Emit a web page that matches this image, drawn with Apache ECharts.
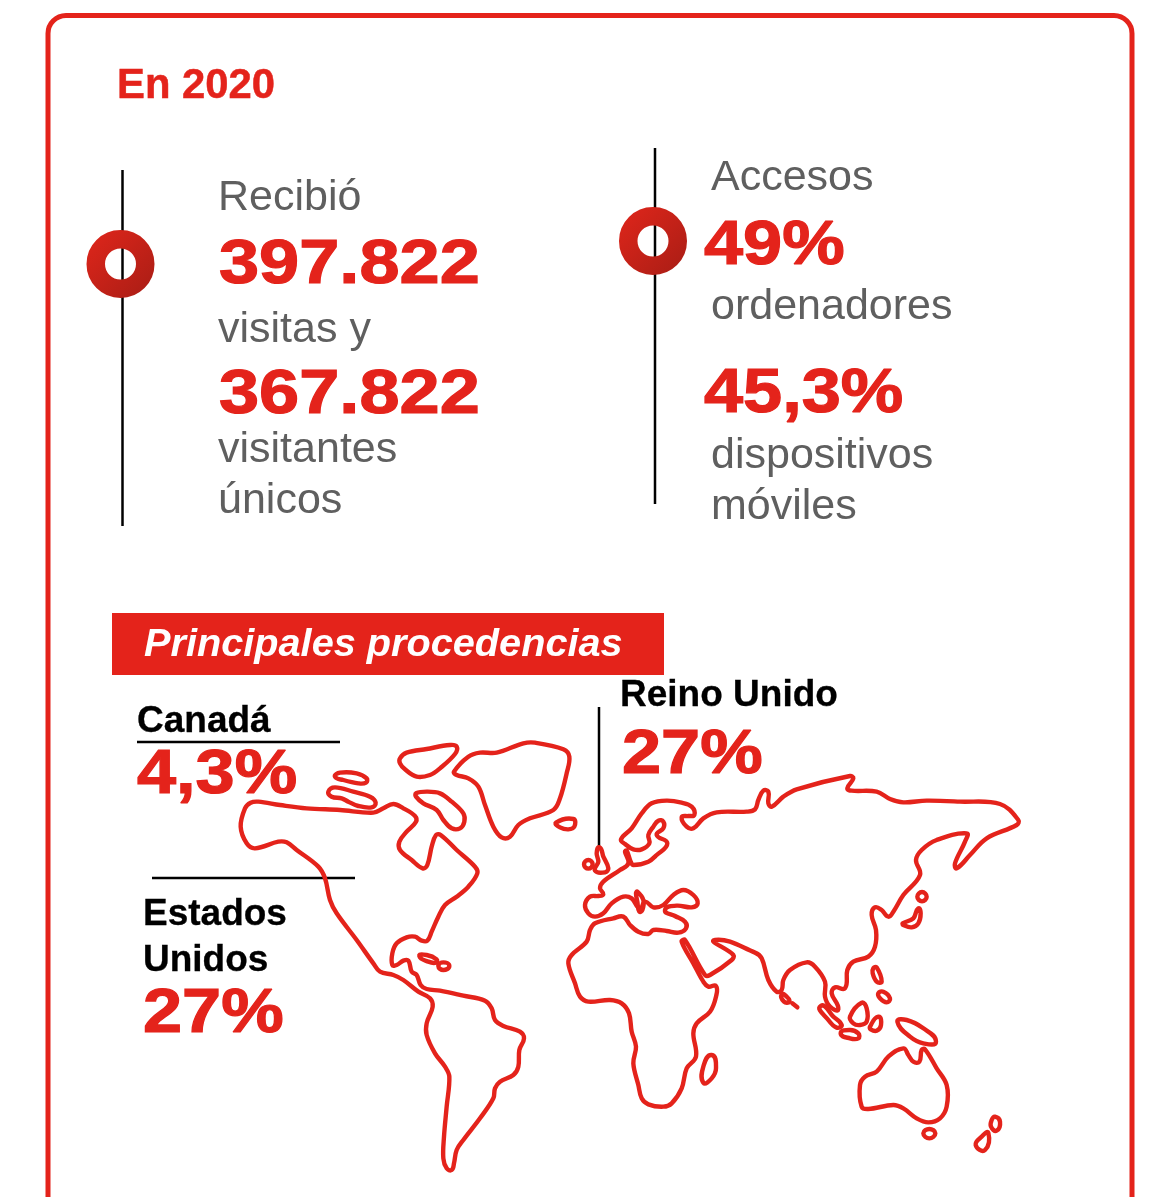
<!DOCTYPE html>
<html>
<head>
<meta charset="utf-8">
<style>html,body{margin:0;padding:0;background:#fff;overflow:hidden}#c{width:1158px;height:1197px}</style>
<script src="https://cdn.jsdelivr.net/npm/echarts@6/dist/echarts.min.js"></script>
</head>
<body>
<div id="c"></div>
<script>
// ---- texts and values
const heading = 'En 2020';
const bannerTitle = 'Principales procedencias';
const visitLabels = ['Recibió', 'visitas y', 'visitantes', 'únicos'];
const visitValues = ['397.822', '367.822'];
const accessLabels = ['Accesos', 'ordenadores', 'dispositivos', 'móviles'];
const accessValues = ['49%', '45,3%'];
const originCountries = ['Canadá', 'Estados', 'Unidos', 'Reino Unido'];
const originShares = ['4,3%', '27%', '27%'];

// ---- world outline, western half (crop units)
const americas = [[85,215],[150,225],[230,235],[330,240],[430,248],[460,235],[490,222],[520,235],[555,258],[558,275],[530,305],[508,335],[510,360],[545,390],[578,415],[592,405],[605,350],[618,315],[632,315],[680,360],[735,410],[742,430],[715,470],[680,500],[645,525],[625,560],[605,605],[592,632],[575,632],[555,620],[530,622],[500,640],[487,670],[487,705],[500,705],[520,692],[535,692],[545,725],[560,735],[572,765],[590,777],[630,782],[700,797],[765,812],[785,835],[795,870],[820,888],[870,905],[882,925],[868,960],[865,1010],[850,1035],[810,1055],[795,1075],[790,1105],[750,1165],[700,1230],[680,1260],[672,1300],[665,1320],[650,1315],[640,1285],[642,1220],[650,1130],[658,1040],[645,1010],[615,970],[590,915],[590,880],[608,830],[600,805],[565,785],[520,750],[490,735],[450,725],[430,700],[380,630],[320,550],[300,510],[285,445],[265,410],[200,360],[170,337],[145,335],[75,355],[50,340],[32,290],[45,235],[62,218],[85,215]];
const arcticNorth = [[510,85],[530,68],[590,57],[660,45],[680,50],[675,72],[630,115],[600,135],[560,140],[525,118],[510,100],[510,85]];
const greenland = [[672,125],[715,80],[750,68],[800,68],[880,40],[915,38],[1000,58],[1018,80],[1010,130],[990,205],[970,240],[900,265],[865,285],[840,320],[815,322],[790,290],[765,225],[745,170],[715,145],[680,135],[672,125]];
const baffin = [[558,190],[590,185],[630,190],[665,215],[700,250],[703,275],[690,295],[665,295],[640,270],[620,240],[580,220],[558,200],[558,190]];
const arcticSmall1 = [[315,140],[330,128],[380,130],[410,145],[408,158],[385,160],[340,150],[315,140]];
const arcticSmall2 = [[295,185],[315,172],[370,185],[420,200],[437,218],[425,232],[385,228],[355,215],[335,205],[305,200],[295,185]];
const iceland = [[978,278],[1030,267],[1033,290],[1015,298],[990,292],[978,278]];
const cuba = [[568,678],[590,675],[620,688],[618,698],[595,695],[568,678]];
const hispaniola = [[625,708],[640,697],[658,708],[640,720],[625,708]];

// ---- world outline, eastern half (crop units)
const afroEurasia = [[365,172],[385,168],[403,165],[395,140],[365,128],[320,122],[275,130],[245,160],[215,205],[183,238],[195,252],[220,268],[245,268],[268,250],[265,225],[280,200],[295,182],[310,185],[310,205],[290,225],[322,250],[290,285],[265,305],[220,315],[212,305],[200,272],[195,275],[205,310],[180,330],[130,365],[120,385],[130,403],[115,408],[90,410],[75,435],[85,460],[105,470],[130,460],[155,430],[190,410],[215,415],[240,445],[255,425],[280,442],[310,435],[340,405],[370,390],[400,405],[413,430],[395,442],[350,437],[315,450],[345,468],[375,485],[378,505],[355,518],[320,513],[280,510],[265,522],[235,515],[210,495],[190,470],[160,475],[105,490],[90,510],[80,545],[35,585],[25,610],[45,670],[60,710],[85,725],[150,720],[185,730],[207,760],[215,815],[228,860],[220,910],[235,975],[245,1015],[265,1033],[310,1040],[335,1030],[365,985],[380,925],[408,890],[400,820],[410,790],[450,755],[468,710],[468,678],[445,680],[430,665],[400,610],[365,545],[375,540],[435,645],[450,645],[515,600],[520,585],[465,540],[585,578],[605,595],[625,660],[650,695],[665,690],[670,660],[690,630],[740,607],[765,620],[795,665],[795,710],[810,740],[835,748],[815,700],[825,682],[855,685],[862,630],[880,605],[925,590],[945,560],[948,510],[935,465],[945,442],[965,450],[985,470],[1000,455],[1030,405],[1080,345],[1068,300],[1085,270],[1130,240],[1220,220],[1215,245],[1185,310],[1190,325],[1230,285],[1280,235],[1370,195],[1375,180],[1320,132],[1200,125],[1100,122],[1030,127],[990,117],[950,95],[875,92],[862,85],[880,55],[870,48],[710,88],[670,110],[635,140],[625,130],[625,95],[610,92],[595,120],[585,148],[560,155],[470,157],[430,175],[400,205],[380,200],[365,172]];
const britain = [[118,262],[130,290],[145,325],[135,337],[105,332],[115,305],[110,280],[118,262]];
const ireland = [[72,313],[85,300],[98,313],[85,326],[72,313]];
const italy = [[232,395],[250,420],[247,450],[238,455],[232,425],[228,400],[232,395]];
const japan = [[1028,490],[1060,475],[1075,445],[1082,460],[1075,490],[1055,502],[1030,495],[1028,490]];
const hokkaido = [[1072,410],[1086,396],[1100,410],[1086,424],[1072,410]];
const sriLanka = [[665,703],[680,710],[688,725],[672,725],[665,703]];
const maldives = [[697,730],[712,742]];
const sumatra = [[782,738],[820,770],[845,795],[830,803],[805,780],[782,738]];
const java = [[842,820],[870,810],[895,820],[895,835],[870,835],[842,820]];
const borneo = [[870,770],[905,728],[920,745],[920,785],[900,795],[880,790],[870,770]];
const sulawesi = [[930,800],[955,770],[963,795],[950,812],[932,808],[930,800]];
const luzon = [[940,625],[950,622],[965,665],[950,665],[938,640],[940,625]];
const mindanao = [[955,700],[970,695],[990,715],[980,727],[960,715],[955,700]];
const newGuinea = [[1012,785],[1040,780],[1090,805],[1128,845],[1090,850],[1050,830],[1012,785]];
const australia = [[1030,865],[1045,885],[1060,905],[1078,905],[1085,870],[1095,868],[1130,925],[1160,975],[1160,1040],[1140,1075],[1105,1087],[1070,1075],[1030,1045],[1000,1035],[925,1047],[905,1040],[900,975],[915,950],[950,935],[985,890],[1030,865]];
const tasmania = [[1090,1120],[1108,1107],[1126,1120],[1108,1135],[1090,1120]];
const nzNorth = [[1305,1070],[1320,1085],[1310,1112],[1293,1100],[1295,1080],[1305,1070]];
const nzSouth = [[1285,1118],[1275,1170],[1247,1155],[1265,1130],[1285,1118]];
const madagascar = [[455,885],[468,925],[455,955],[430,968],[430,920],[455,885]];

// ---- layout
const RED = '#e4231b', GREY = '#5f5f5f', BLACK = '#000', W = 1158, H = 1197;
const west = p => [230 + p[0] / 3, 730 + p[1] / 3];
const east = p => [560 + p[0] / 3, 760 + p[1] / 3];
const landmasses = [
  [americas, west], [arcticNorth, west], [greenland, west], [baffin, west], [arcticSmall1, west], [arcticSmall2, west], [iceland, west], [cuba, west], [hispaniola, west],
  [afroEurasia, east], [britain, east], [ireland, east], [italy, east], [japan, east], [hokkaido, east], [sriLanka, east], [maldives, east], [sumatra, east], [java, east], [borneo, east], [sulawesi, east], [luzon, east], [mindanao, east], [newGuinea, east], [australia, east], [tasmania, east], [nzNorth, east], [nzSouth, east], [madagascar, east]
];

const label = (text, x, y, size, fill, extra) => ({
  type: 'text', x, y, z: 10, silent: true, scaleX: (extra && extra.sx) || 1,
  style: { text, fontSize: size, fontWeight: (extra && extra.w) || 'normal', fontStyle: (extra && extra.i) || 'normal',
    fontFamily: '"Liberation Sans", Arial, sans-serif', fill, verticalAlign: 'middle',
    stroke: (extra && extra.st) ? fill : null, lineWidth: (extra && extra.st) || 0 }
});
const big = (text, x, y, sx) => label(text, x, y, 63, RED, { w: 'bold', sx: sx || 1.145, st: 1.2 });
const pct = (text, x, y) => big(text, x, y, 1.115);
const dark = (text, x, y) => label(text, x, y, 37, BLACK, { w: 'bold', st: 0.3 });
const grey = (text, x, y) => label(text, x, y, 43, GREY);
const rule = (x1, y1, x2, y2, w) => ({ type: 'line', z: 1, silent: true, shape: { x1, y1, x2, y2 }, style: { stroke: BLACK, lineWidth: w } });
const ring = (cx, cy) => ({
  type: 'circle', z: 5, silent: true, shape: { cx, cy, r: 24.75 },
  style: { fill: 'none', lineWidth: 18.5, stroke: { type: 'linear', x: 0, y: 0, x2: 1, y2: 1, colorStops: [{ offset: 0, color: '#e0261b' }, { offset: 1, color: '#a81d15' }] } }
});

const graphics = [
  { type: 'rect', z: 0, silent: true, shape: { x: 48, y: 15.5, width: 1084, height: 1300, r: 18 }, style: { fill: '#fff', stroke: RED, lineWidth: 5 } },
  rule(122.5, 170, 122.5, 526, 2.5), rule(655, 148, 655, 504, 2.5),
  ring(120.5, 264), ring(653, 241),
  label(heading, 117, 86, 41.8, RED, { w: 'bold', st: 0.5 }),
  grey(visitLabels[0], 218, 198.5), big(visitValues[0], 219, 266), grey(visitLabels[1], 218, 330.5),
  big(visitValues[1], 219, 396), grey(visitLabels[2], 218, 450.5), grey(visitLabels[3], 218, 501.5),
  grey(accessLabels[0], 711, 178), pct(accessValues[0], 704, 247), grey(accessLabels[1], 711, 307.5),
  pct(accessValues[1], 704, 395), grey(accessLabels[2], 711, 456.5), grey(accessLabels[3], 711, 507.5),
  { type: 'rect', z: 2, silent: true, shape: { x: 112, y: 613, width: 552, height: 62 }, style: { fill: RED } },
  label(bannerTitle, 144, 645, 39.7, '#fff', { w: 'bold', i: 'italic' }),
  dark(originCountries[0], 137, 722), rule(137, 742, 340, 742, 2.5), pct(originShares[0], 137, 776),
  rule(152, 878, 355, 878, 2.5), dark(originCountries[1], 143, 915), dark(originCountries[2], 143, 961), pct(originShares[1], 143, 1015),
  dark(originCountries[3], 620, 695.5), rule(599, 707, 599, 848, 2.5), pct(originShares[2], 622, 756)
];

// Closed, rounded outline through the axis-projected points.
const outlinePath = pts => {
  const closed = pts.length > 2;
  const p = closed ? pts.slice(0, -1) : pts;
  const n = p.length;
  const at = i => closed ? p[(i + n) % n] : p[Math.max(0, Math.min(n - 1, i))];
  const dir = i => {
    const a = at(i - 1), b = at(i + 1);
    const dx = b[0] - a[0], dy = b[1] - a[1], d = Math.hypot(dx, dy) || 1;
    return [dx / d, dy / d];
  };
  let out = 'M' + p[0][0] + ' ' + p[0][1];
  const segs = closed ? n : n - 1;
  for (let i = 0; i < segs; i++) {
    const a = at(i), b = at(i + 1), len = Math.hypot(b[0] - a[0], b[1] - a[1]) * 0.36;
    const ta = dir(i), tb = dir(i + 1);
    out += 'C' + (a[0] + ta[0] * len) + ' ' + (a[1] + ta[1] * len) + ' ' + (b[0] - tb[0] * len) + ' ' + (b[1] - tb[1] * len) + ' ' + b[0] + ' ' + b[1];
  }
  return out + (closed ? 'Z' : '');
};

const series = landmasses.map(([points, place]) => {
  const data = points.map(place);
  return {
    type: 'custom', coordinateSystem: 'cartesian2d', data, silent: true, z: 3, clip: false,
    encode: { x: 0, y: 1 },
    renderItem: (params, api) => params.dataIndex !== 0 ? null : {
      type: 'path',
      shape: { pathData: outlinePath(data.map(d => api.coord(d))) },
      style: { fill: 'none', stroke: RED, lineWidth: 4.4, lineCap: 'round', lineJoin: 'round' }
    }
  };
});

const chart = echarts.init(document.getElementById('c'), null, { renderer: 'canvas', width: W, height: H });
chart.setOption({
  animation: false, backgroundColor: '#fff',
  grid: { left: 0, right: 0, top: 0, bottom: 0 },
  xAxis: { type: 'value', min: 0, max: W, show: false },
  yAxis: { type: 'value', min: 0, max: H, inverse: true, show: false },
  graphic: graphics,
  series
});
</script>
</body>
</html>
